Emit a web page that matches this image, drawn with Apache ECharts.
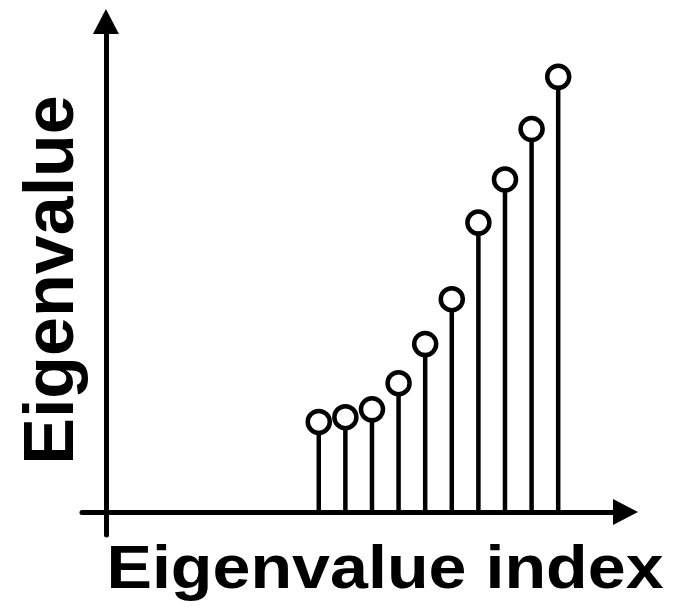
<!DOCTYPE html>
<html>
<head>
<meta charset="utf-8">
<script src="https://cdn.jsdelivr.net/npm/echarts@6/dist/echarts.min.js"></script>
<style>
  html, body { margin: 0; padding: 0; background: #fff; }
  #main { width: 686px; height: 609px; }
</style>
</head>
<body>
<div id="main"></div>
<script>
// eigenvalue index (x) and eigenvalue (y)
var indices = [8, 9, 10, 11, 12, 13, 14, 15, 16, 17];
var eigenvalues = [2.07, 2.18, 2.36, 2.96, 3.86, 4.89, 6.65, 7.64, 8.80, 10.0];

var points = indices.map(function (x, i) { return [x, eigenvalues[i]]; });
var font = '"Liberation Sans", Arial, Helvetica, sans-serif';

var myChart = echarts.init(document.getElementById('main'));
var option = {
    animation: false,
    backgroundColor: '#fff',
    grid: { left: 82, right: 60.5, top: 21.5, bottom: 74 },
    xAxis: {
        type: 'value',
        min: -0.9,
        max: 19.53,
        splitLine: { show: false },
        axisTick: { show: false },
        axisLabel: { show: false },
        axisLine: {
            onZero: true,
            symbol: ['none', 'triangle'],
            symbolSize: [26, 25],
            lineStyle: { color: '#000', width: 5 }
        }
    },
    yAxis: {
        type: 'value',
        min: -0.528,
        max: 11.27,
        splitLine: { show: false },
        axisTick: { show: false },
        axisLabel: { show: false },
        axisLine: {
            onZero: true,
            symbol: ['none', 'triangle'],
            symbolSize: [26, 25],
            lineStyle: { color: '#000', width: 5 }
        }
    },
    series: [
        {
            // stems
            type: 'bar',
            barWidth: 4.5,
            itemStyle: { color: '#000' },
            data: points,
            z: 2
        },
        {
            // open circle markers
            type: 'scatter',
            symbol: 'circle',
            symbolSize: 22,
            itemStyle: { color: '#fff', borderColor: '#000', borderWidth: 4.5, opacity: 1 },
            data: points,
            z: 3
        }
    ],
    graphic: [
        {
            type: 'text',
            x: 385,
            y: 571,
            scaleX: 1.1,
            style: {
                text: 'Eigenvalue index',
                font: 'bold 62px ' + font,
                fill: '#000',
                align: 'center',
                verticalAlign: 'middle'
            }
        },
        {
            type: 'text',
            x: 54,
            y: 280,
            rotation: Math.PI / 2,
            style: {
                text: 'Eigenvalue',
                font: 'bold 70px ' + font,
                fill: '#000',
                align: 'center',
                verticalAlign: 'middle'
            }
        }
    ]
};
myChart.setOption(option);
</script>
</body>
</html>
